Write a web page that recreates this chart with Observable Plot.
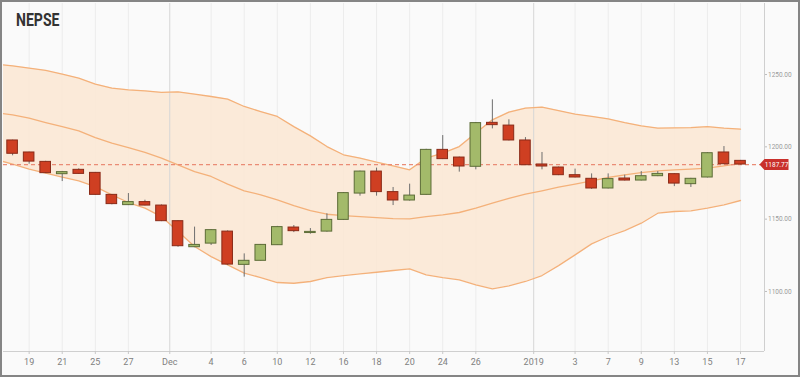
<!DOCTYPE html>
<html>
<head>
<meta charset="utf-8">
<script src="https://cdn.jsdelivr.net/npm/d3@7"></script>
<script src="https://cdn.jsdelivr.net/npm/@observablehq/plot@0.6"></script>
<style>
  html, body { margin: 0; padding: 0; background: #ffffff; }
  #wrap { position: relative; width: 800px; height: 377px; box-sizing: border-box;
          border: 2px solid #858585; background: #fafafa; overflow: hidden; }
  #title { position: absolute; left: 14px; top: 8px; font-family: Roboto, sans-serif;
           font-weight: 700; font-size: 19px; line-height: 19px; color: #333;
           transform: scaleX(0.74); transform-origin: left top; }
  svg { display: block; }
</style>
</head>
<body>
<div id="wrap"><div id="title">NEPSE</div></div>
<script>
// Trading days (index 0 = 2018-11-18)
const dates = ["2018-11-18","2018-11-19","2018-11-20","2018-11-21","2018-11-22","2018-11-25","2018-11-26","2018-11-27","2018-11-28","2018-11-29",
  "2018-12-02","2018-12-03","2018-12-04","2018-12-05","2018-12-06","2018-12-09","2018-12-10","2018-12-11","2018-12-12","2018-12-13",
  "2018-12-16","2018-12-17","2018-12-18","2018-12-19","2018-12-20","2018-12-23","2018-12-24","2018-12-25","2018-12-26","2018-12-27",
  "2018-12-30","2018-12-31","2019-01-01","2019-01-02","2019-01-03","2019-01-06","2019-01-07","2019-01-08","2019-01-09","2019-01-10",
  "2019-01-13","2019-01-14","2019-01-15","2019-01-16","2019-01-17"];
const opens  = [1204.4,1196.1,1189.6,1181.1,1184.1,1182.0,1166.8,1159.7,1161.8,1159.4,
  1148.6,1130.6,1133.1,1141.4,1118.4,1121.2,1132.0,1144.2,1140.4,1141.4,
  1149.5,1167.7,1182.9,1168.7,1162.9,1166.8,1197.9,1192.6,1186.2,1216.6,
  1214.7,1204.4,1187.8,1185.7,1180.4,1177.9,1171.2,1178.1,1176.7,1179.7,
  1181.1,1174.2,1178.8,1196.1,1190.3];
const highs  = [1204.6,1196.3,1190.0,1183.0,1184.8,1182.3,1167.0,1167.7,1163.1,1159.8,
  1148.8,1144.5,1142.8,1141.9,1126.0,1132.5,1145.0,1145.6,1143.5,1153.7,
  1168.4,1183.2,1185.3,1171.9,1174.2,1198.3,1207.8,1192.9,1216.8,1232.5,
  1218.7,1206.4,1196.1,1186.0,1184.6,1181.3,1181.3,1180.4,1182.9,1182.9,
  1181.4,1178.2,1196.0,1200.2,1190.6];
const lows   = [1193.8,1188.0,1181.5,1176.0,1181.0,1166.5,1159.9,1159.4,1159.2,1148.3,
  1130.6,1130.3,1131.8,1118.0,1109.9,1121.0,1131.8,1140.7,1139.6,1141.0,
  1149.2,1165.9,1165.9,1159.4,1162.5,1166.5,1191.2,1182.5,1184.1,1212.4,
  1204.1,1187.0,1184.1,1180.1,1178.5,1170.6,1170.9,1176.4,1176.4,1179.4,
  1172.5,1171.9,1178.5,1187.7,1187.5];
const closes = [1195.2,1189.8,1181.8,1182.5,1181.3,1166.8,1160.4,1161.8,1159.4,1148.6,
  1131.3,1132.2,1142.4,1118.6,1121.2,1132.2,1144.5,1141.7,1141.2,1149.5,
  1168.0,1182.9,1168.7,1162.9,1166.3,1197.9,1191.5,1186.4,1216.4,1215.0,
  1204.4,1187.3,1186.4,1180.4,1178.8,1171.2,1177.7,1176.7,1179.7,1181.3,
  1174.6,1177.9,1195.6,1188.0,1187.77];

// Bollinger bands, index -1 .. 44
const bandIndex = d3.range(-1, 45);
const upperBand = [1257.2,1256.0,1254.4,1252.8,1250.3,1247.5,1243.4,1240.6,1239.4,1238.7,1237.6,
  1238.0,1236.4,1234.8,1233.0,1227.9,1224.4,1221.0,1214.0,1207.6,1200.2,
  1194.5,1192.2,1189.4,1186.9,1184.1,1192.2,1195.6,1200.2,1209.5,1218.7,
  1224.0,1226.8,1227.5,1225.1,1222.6,1221.0,1219.4,1216.8,1214.5,1212.9,
  1213.1,1213.3,1214.0,1212.9,1212.2];
const middleBand = [1223.6,1222.1,1219.8,1216.8,1214.0,1211.1,1206.4,1202.6,1199.5,1196.1,1192.2,
  1187.6,1182.9,1179.5,1174.2,1169.6,1166.8,1163.3,1159.4,1155.9,1153.4,
  1152.5,1151.8,1151.1,1150.4,1150.2,1151.8,1153.0,1154.6,1157.6,1161.1,
  1164.3,1167.3,1169.6,1172.1,1174.2,1176.5,1178.8,1180.6,1182.2,1183.4,
  1184.1,1184.6,1185.3,1186.9,1188.5];
const lowerBand = [1191.2,1188.0,1184.6,1181.8,1179.0,1176.5,1172.5,1166.8,1161.5,1157.6,1151.8,
  1141.4,1131.1,1124.1,1118.4,1112.7,1109.6,1106.2,1105.7,1106.9,1109.6,
  1111.0,1112.2,1113.3,1114.5,1115.6,1111.5,1109.6,1108.0,1104.6,1101.8,
  1103.9,1106.9,1111.0,1117.9,1125.3,1132.9,1138.0,1142.1,1147.2,1154.1,
  1155.3,1155.7,1157.6,1159.9,1162.9];

// Axis ticks
const tickIndex  = [1,3,5,7,9.5,12,14,16,18,20,22,24,26,28,31.5,34,36,38,40,42,44];
const tickLabels = ["19","21","25","27","Dec","4","6","10","12","16","18","20","24","26","2019","3","7","9","13","15","17"];
const periodBreaks = [9.5, 31.5];
const yTicks = [1100, 1150, 1200, 1250];
const lastClose = closes[closes.length - 1];

const xDomain = [-0.55, 45.45];
const yDomain = [1058.5, 1299.1];

const candles = dates.map((d, i) => ({
  i, date: d, open: opens[i], high: highs[i], low: lows[i], close: closes[i],
  up: closes[i] >= opens[i]
}));
const bands = bandIndex.map((i, k) => ({i, upper: upperBand[k], middle: middleBand[k], lower: lowerBand[k]}));
const labelMap = new Map(tickIndex.map((t, k) => [t, tickLabels[k]]));

const tagSymbol = {
  draw(ctx) {
    ctx.moveTo(-5, 0);
    ctx.lineTo(0, -5.5);
    ctx.lineTo(24, -5.5);
    ctx.lineTo(24, 5.5);
    ctx.lineTo(0, 5.5);
    ctx.closePath();
  }
};

const chart = Plot.plot({
  width: 796,
  height: 373,
  marginLeft: 1,
  marginRight: 34,
  marginTop: 1,
  marginBottom: 24,
  style: {background: "transparent", fontFamily: "Roboto, sans-serif", overflow: "visible"},
  x: {type: "linear", domain: xDomain, axis: null, label: null},
  y: {type: "linear", domain: yDomain, axis: null, label: null},
  marks: [
    Plot.ruleX(tickIndex.filter(t => !periodBreaks.includes(t)), {stroke: "#ececec", strokeWidth: 1}),
    Plot.areaY(bands, {x: "i", y1: "lower", y2: "upper", fill: "#fbe8d5", fillOpacity: 0.9, clip: true}),
    Plot.ruleX(periodBreaks, {stroke: "#d6d6d6", strokeWidth: 1}),
    Plot.lineY(bands, {x: "i", y: "upper", stroke: "#f4b17a", strokeWidth: 1.3, clip: true}),
    Plot.lineY(bands, {x: "i", y: "middle", stroke: "#f4b17a", strokeWidth: 1.3, clip: true}),
    Plot.lineY(bands, {x: "i", y: "lower", stroke: "#f4b17a", strokeWidth: 1.3, clip: true}),
    Plot.ruleY([lastClose], {stroke: "#ea8c76", strokeWidth: 1.2, strokeDasharray: "4,3"}),
    Plot.ruleX(candles, {x: "i", y1: "low", y2: "high", stroke: "#6e6e6e", strokeWidth: 1}),
    Plot.rect(candles, {
      x1: d => d.i - 0.32, x2: d => d.i + 0.32,
      y1: "open", y2: "close",
      fill: d => d.up ? "#a3ba6a" : "#cf3f22",
      stroke: d => d.up ? "#5c6c37" : "#8a2a17",
      strokeWidth: 1
    }),
    Plot.ruleX([xDomain[1]], {stroke: "#cfcfcf"}),
    Plot.ruleY([yDomain[0]], {stroke: "#cfcfcf"}),
    Plot.axisX(tickIndex, {
      anchor: "bottom", label: null, tickSize: 3, tickPadding: 4, fontSize: 9,
      tickFormat: d => labelMap.get(d), stroke: "#c8c8c8", fill: "#808080"
    }),
    Plot.axisY(yTicks, {
      anchor: "right", label: null, tickSize: 2, tickPadding: 1.5, fontSize: 6.5,
      tickFormat: d3.format(".2f"), stroke: "#bdbdbd", fill: "#9a9a9a"
    }),
    Plot.dot([lastClose], {x: () => xDomain[1], y: d => d, symbol: tagSymbol, r: 5, fill: "#c9302c", stroke: "none"}),
    Plot.text([lastClose], {x: () => xDomain[1], y: d => d, text: d => d3.format(".2f")(d), dx: 12, fill: "white", fontSize: 6.5, textAnchor: "middle"})
  ]
});
document.getElementById("wrap").appendChild(chart);
</script>
</body>
</html>
